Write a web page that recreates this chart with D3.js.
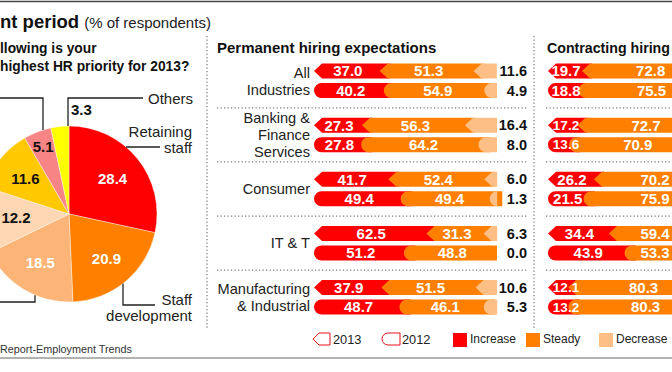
<!DOCTYPE html>
<html><head><meta charset="utf-8">
<script src="https://cdn.jsdelivr.net/npm/d3@7"></script>
<style>
html,body{margin:0;padding:0;background:#fff;}
svg{display:block;font-family:"Liberation Sans",Arial,sans-serif;}
</style></head>
<body>
<svg id="chart" width="672" height="372"></svg>
<script>
// ---------- DATA ----------
const categories = ["All Industries","Banking & Finance Services","Consumer","IT & T","Manufacturing & Industrial"];
const categoryLines = [["All","Industries"],["Banking &","Finance","Services"],["Consumer"],["IT & T"],["Manufacturing","& Industrial"]];
const years = ["2013","2012"];
const seriesNames = ["Increase","Steady","Decrease"];

const permIncrease2013 = [37.0,27.3,41.7,62.5,37.9];
const permSteady2013   = [51.3,56.3,52.4,31.3,51.5];
const permDecrease2013 = [11.6,16.4,6.0,6.3,10.6];
const permIncrease2012 = [40.2,27.8,49.4,51.2,48.7];
const permSteady2012   = [54.9,64.2,49.4,48.8,46.1];
const permDecrease2012 = [4.9,8.0,1.3,0.0,5.3];

const contIncrease2013 = [19.7,17.2,26.2,34.4,12.1];
const contSteady2013   = [72.8,72.7,70.2,59.4,80.3];
const contDecrease2013 = [7.5,10.1,3.6,6.2,7.6];
const contIncrease2012 = [18.8,13.6,21.5,43.9,13.2];
const contSteady2012   = [75.5,70.9,75.9,53.3,80.3];
const contDecrease2012 = [5.7,15.5,2.6,2.8,6.5];

const pieValues = [28.4,20.9,18.5,12.2,11.6,5.1,3.3];
const pieNames  = ["Retaining staff","Staff development","","","","","Others"];

// ---------- STYLE ----------
const W = 672;
const barColors = ["#fe0000","#ff8000","#fdbf86"];
const pieColors = ["#fe0000","#ff8000","#fcb577","#fdd7b3","#ffc800","#f88585","#ffff00"];
const pieLabelColors = ["#fff","#fff","#fff","#111","#111","#111","#111"];

const svg = d3.select("#chart");

// top & bottom rules
svg.append("line").attr("x1",0).attr("x2",W).attr("y1",1.5).attr("y2",1.5).attr("stroke","#444").attr("stroke-width",1.5);
svg.append("line").attr("x1",0).attr("x2",W).attr("y1",358).attr("y2",358).attr("stroke","#999").attr("stroke-width",1.5);

// titles
const t = svg.append("text").attr("x",0).attr("y",28);
t.append("tspan").attr("font-weight","bold").attr("font-size",18.5).attr("fill","#111").text("nt period");
t.append("tspan").attr("font-size",15).attr("fill","#222").attr("dx",5).text("(% of respondents)");
svg.append("text").attr("x",0).attr("y",53).attr("font-weight","bold").attr("font-size",13.8).attr("fill","#111").text("llowing is your");
svg.append("text").attr("x",0).attr("y",71).attr("font-weight","bold").attr("font-size",13.8).attr("fill","#111").text("highest HR priority for 2013?");
svg.append("text").attr("x",0).attr("y",353).attr("font-size",10.8).attr("fill","#333").text("Report-Employment Trends");

// vertical dotted separators
[207,534].forEach(x=>{
  svg.append("line").attr("x1",x).attr("x2",x).attr("y1",36).attr("y2",328)
    .attr("stroke","#777").attr("stroke-width",1.2).attr("stroke-dasharray","1.2,2.3");
});

// ---------- PIE ----------
const cx = 69, cy = 214, R = 88;
const pie = d3.pie().sort(null).value(d=>d);
const arcs = pie(pieValues);
const arc = d3.arc().innerRadius(0).outerRadius(R);
const gPie = svg.append("g").attr("transform",`translate(${cx},${cy})`);
gPie.selectAll("path").data(arcs).join("path")
  .attr("d",arc).attr("fill",(d,i)=>pieColors[i]).attr("stroke","#fff").attr("stroke-width",0.4);
gPie.selectAll("text.pl").data(arcs.filter((d,i)=>i<6)).join("text")
  .attr("class","pl")
  .attr("transform",(d,i)=>{
    const rr = d.value < 6 ? 72 : (i===1 ? 58 : 56);
    const a = (d.startAngle+d.endAngle)/2;
    const px = Math.max(rr*Math.sin(a), -cx+16);
    return `translate(${px},${-rr*Math.cos(a)})`;
  })
  .attr("text-anchor","middle").attr("dy","0.36em")
  .attr("font-weight","bold").attr("font-size",15)
  .attr("fill",(d,i)=>pieLabelColors[i]).text(d=>d.value.toFixed(1));

// pie annotations (leaders)
function edgeY(x, sign){ const dx = x-cx; return cy + sign*Math.sqrt(R*R-dx*dx); }
function edgeX(y){ const dy=y-cy; return cx+Math.sqrt(R*R-dy*dy); }
const leader = (pts)=> svg.append("path").attr("d",d3.line()(pts)).attr("fill","none").attr("stroke","#222").attr("stroke-width",1.3);
leader([[68,edgeY(68,-1)],[68,98],[143,98]]);
svg.append("text").attr("x",148).attr("y",104).attr("font-size",15).attr("fill","#222").text(pieNames[6]);
svg.append("text").attr("x",71).attr("y",115).attr("font-weight","bold").attr("font-size",15).attr("fill","#111").text(pieValues[6].toFixed(1));
leader([[43,edgeY(43,-1)],[43,98],[0,98]]);
leader([[edgeX(147),147],[160,147]]);
svg.append("text").attr("x",192).attr("y",137).attr("text-anchor","end").attr("font-size",15).attr("fill","#222").text("Retaining");
svg.append("text").attr("x",192).attr("y",153).attr("text-anchor","end").attr("font-size",15).attr("fill","#222").text("staff");
leader([[123,edgeY(123,1)],[123,305],[155,305]]);
svg.append("text").attr("x",192).attr("y",305).attr("text-anchor","end").attr("font-size",15).attr("fill","#222").text("Staff");
svg.append("text").attr("x",192).attr("y",321).attr("text-anchor","end").attr("font-size",15).attr("fill","#222").text("development");
leader([[35,edgeY(35,1)],[35,302],[0,302]]);

// ---------- BARS ----------
const groupY = d3.scaleLinear().domain([0,4]).range([71,287.5]);
const rowGap = 19.5, barH = 15, half = barH/2;
const xPerm = d3.scaleLinear().domain([0,100]).range([314,497]);
const xCont = d3.scaleLinear().domain([0,100]).range([548,731]);

svg.append("text").attr("x",217).attr("y",53).attr("font-weight","bold").attr("font-size",15).attr("fill","#111").text("Permanent hiring expectations");
svg.append("text").attr("x",547).attr("y",53).attr("font-weight","bold").attr("font-size",14.2).attr("fill","#111").text("Contracting hiring");

// category labels
categoryLines.forEach((lines,i)=>{
  const c = groupY(i) + rowGap/2;
  const n = lines.length, lh = 17;
  lines.forEach((ln,j)=>{
    svg.append("text").attr("x",310).attr("y",c + (j-(n-1)/2)*lh).attr("dy","0.36em")
      .attr("text-anchor","end").attr("font-size",14.6).attr("fill","#222").text(ln);
  });
});

// horizontal dotted separators
for(let i=0;i<4;i++){
  const y = (groupY(i)+rowGap+half + groupY(i+1)-half)/2;
  svg.append("line").attr("x1",217).attr("x2",527).attr("y1",y).attr("y2",y)
    .attr("stroke","#777").attr("stroke-width",1.2).attr("stroke-dasharray","1.2,2.3");
  svg.append("line").attr("x1",546).attr("x2",W).attr("y1",y).attr("y2",y)
    .attr("stroke","#777").attr("stroke-width",1.2).attr("stroke-dasharray","1.2,2.3");
}

function segPath(a,b,yc,isLast,isFirst,style){
  const top=yc-half, bot=yc+half;
  if(style==="2013"){
    const d=8;
    const tip = isFirst ? a : a-2;
    const back = Math.min(tip+d, b);
    const end = isLast ? b : b+d;
    return `M${tip},${yc}L${back},${top}L${end},${top}L${end},${bot}L${back},${bot}Z`;
  } else {
    const r=half;
    const left = isFirst ? a : a-r/2;
    const c = Math.min(left+r, b);
    const end = isLast ? b : b+r;
    return `M${end},${top}L${c},${top}A${r},${r} 0 0 0 ${c},${bot}L${end},${bot}Z`;
  }
}

function drawRow(g, x, vals, yc, style, showDec){
  const nonzero = vals.map((v,i)=>v>0?i:-1).filter(i=>i>=0);
  const lastIdx = nonzero[nonzero.length-1];
  let cum=0;
  const segs = vals.map((v,i)=>{ const s={i,v,a:x(cum),b:x(cum+v)}; cum+=v; return s; });
  segs.forEach(s=>{
    if(s.v<=0) return;
    g.append("path").attr("d",segPath(s.a,s.b,yc,s.i===lastIdx,s.i===0,style)).attr("fill",barColors[s.i]);
  });
  segs.slice(0,2).forEach(s=>{
    let lx = (s.a+s.b)/2;
    if(s.i===0) lx = Math.max(lx, s.a + 18);
    lx = Math.min(lx, W - 17);
    g.append("text").attr("x",lx).attr("y",yc).attr("dy","0.36em")
      .attr("text-anchor","middle").attr("font-weight","bold").attr("font-size",s.i===0 && (s.b-s.a)<32 ? 13.5 : 15)
      .attr("fill","#fff").text(s.v.toFixed(1));
  });
  if(showDec){
    g.append("text").attr("x",527).attr("y",yc).attr("dy","0.36em").attr("text-anchor","end")
      .attr("font-weight","bold").attr("font-size",14.5).attr("fill","#111").text(vals[2].toFixed(1));
  }
}

const gBars = svg.append("g");
categories.forEach((c,i)=>{
  const y13 = groupY(i), y12 = groupY(i)+rowGap;
  drawRow(gBars, xPerm, [permIncrease2013[i],permSteady2013[i],permDecrease2013[i]], y13, "2013", true);
  drawRow(gBars, xPerm, [permIncrease2012[i],permSteady2012[i],permDecrease2012[i]], y12, "2012", true);
  drawRow(gBars, xCont, [contIncrease2013[i],contSteady2013[i],contDecrease2013[i]], y13, "2013", false);
  drawRow(gBars, xCont, [contIncrease2012[i],contSteady2012[i],contDecrease2012[i]], y12, "2012", false);
});

// ---------- LEGEND ----------
const ly = 339;
const gL = svg.append("g");
years.forEach((yr,i)=>{
  const x0 = 313 + i*69;
  const h=12, top=ly-h/2, bot=ly+h/2;
  let p;
  if(i===0) p = `M${x0},${ly}L${x0+6},${top}L${x0+17},${top}L${x0+17},${bot}L${x0+6},${bot}Z`;
  else p = `M${x0+18},${top}L${x0+6},${top}A6,6 0 0 0 ${x0+6},${bot}L${x0+18},${bot}Z`;
  gL.append("path").attr("d",p).attr("fill","#fff").attr("stroke","#e8141c").attr("stroke-width",1);
  gL.append("text").attr("x",x0+20).attr("y",ly).attr("dy","0.36em").attr("font-size",12.8).attr("fill","#222").text(yr);
});
seriesNames.forEach((s,i)=>{
  const x0 = 453 + i*73;
  gL.append("rect").attr("x",x0).attr("y",ly-6).attr("width",14).attr("height",14).attr("fill",barColors[i]);
  gL.append("text").attr("x",x0+17).attr("y",ly).attr("dy","0.36em").attr("font-size",12).attr("fill","#222").text(s);
});
</script>
</body></html>
